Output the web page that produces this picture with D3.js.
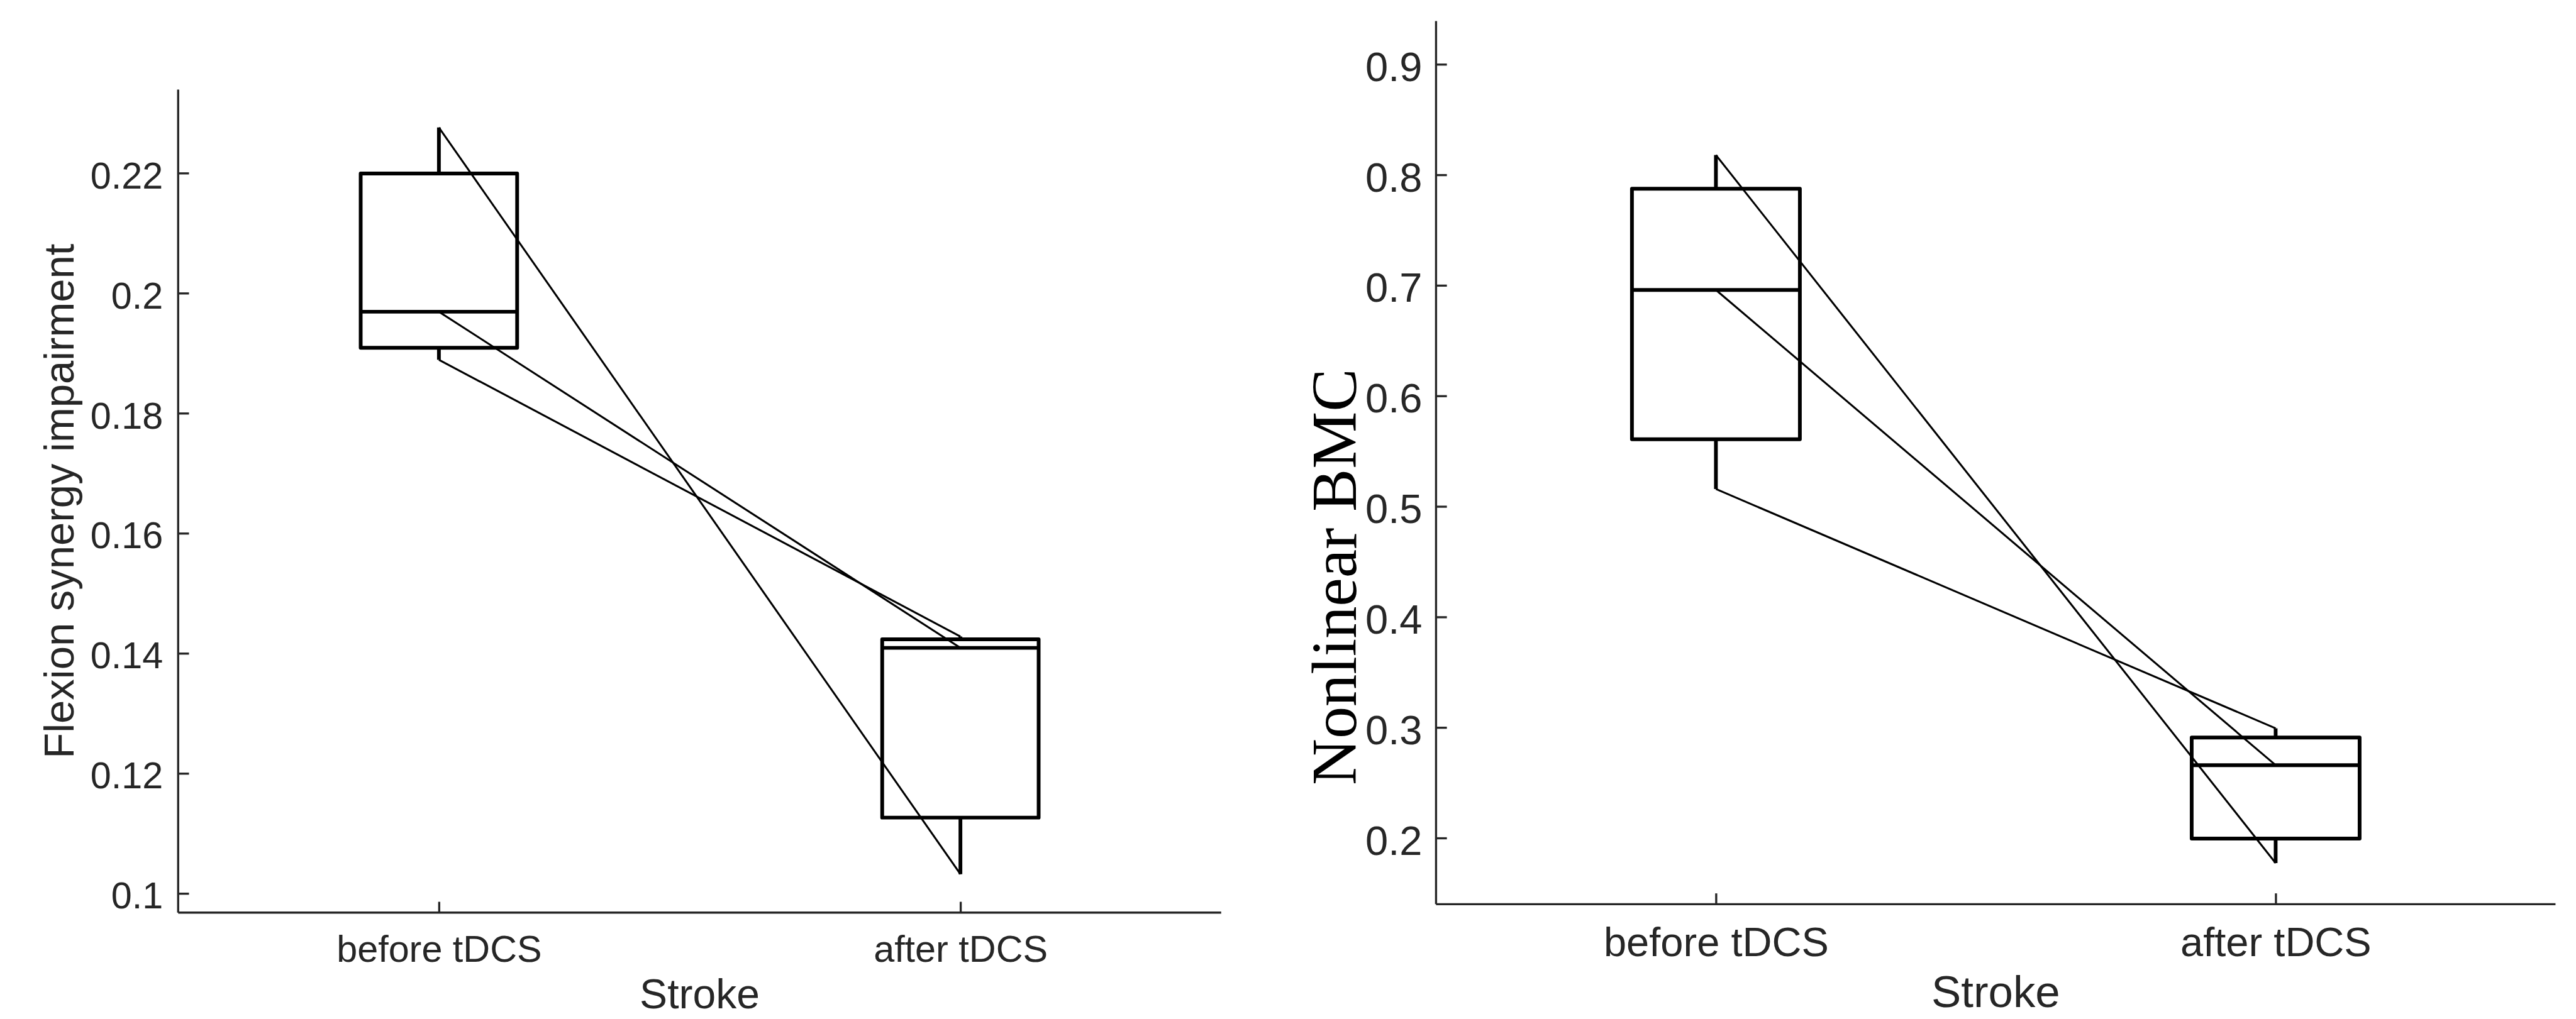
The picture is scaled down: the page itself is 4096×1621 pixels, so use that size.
<!DOCTYPE html>
<meta charset="utf-8">
<style>

body {
  margin: 0;
  background: #fff;
}

svg {
  display: block;
  background: #fff;
}

.axis path,
.axis line {
  stroke: #262626;
  stroke-width: 3.5;
}

.axis text {
  fill: #262626;
  font-family: "Liberation Sans", Helvetica, Arial, sans-serif;
}

.box {
  fill: none;
  stroke: #000;
  stroke-width: 6.2;
  stroke-linejoin: round;
}

.pair {
  fill: none;
  stroke: #000;
  stroke-width: 3.2;
}

.title {
  fill: #262626;
  font-family: "Liberation Sans", Helvetica, Arial, sans-serif;
}

.serif {
  fill: #000;
  font-family: "Liberation Serif", "Times New Roman", Times, serif;
}

</style>
<body>
  <div id="main"></div>
  <script src="https://d3js.org/d3.v7.min.js"></script>
  <script>

  // categories on the x axis, shared by both panels
  const categories = ["before tDCS", "after tDCS"];
  const xTitle = "Stroke";

  // left panel: one value per subject, before and after
  const flexBefore = [0.2276, 0.1969, 0.1889];
  const flexAfter  = [0.1032, 0.1409, 0.1428];
  const flexTicks  = [0.1, 0.12, 0.14, 0.16, 0.18, 0.2, 0.22];
  const flexTickLabels = ["0.1", "0.12", "0.14", "0.16", "0.18", "0.2", "0.22"];
  const flexLimits = [0.0968, 0.2339];
  const flexTitle = "Flexion synergy impairment";

  // right panel
  const bmcBefore = [0.8179, 0.6958, 0.5157];
  const bmcAfter  = [0.1773, 0.2659, 0.2992];
  const bmcTicks  = [0.2, 0.3, 0.4, 0.5, 0.6, 0.7, 0.8, 0.9];
  const bmcTickLabels = ["0.2", "0.3", "0.4", "0.5", "0.6", "0.7", "0.8", "0.9"];
  const bmcLimits = [0.1401, 0.9391];
  const bmcTitle = "Nonlinear BMC";

  // the whole drawing is laid out at reference size, then shrunk
  const k = 0.957;
  const svg = d3.select("#main").append("svg")
      .attr("width", 4096)
      .attr("height", 1621);
  const root = svg.append("g").attr("transform", `scale(${k})`);

  // matlab style percentile (used by boxplot)
  function mquant(vals, p) {
    const s = vals.slice().sort(d3.ascending);
    const n = s.length;
    const pos = p * n - 0.5;
    if (pos <= 0) return s[0];
    if (pos >= n - 1) return s[n - 1];
    const i = Math.floor(pos);
    return s[i] + (pos - i) * (s[i + 1] - s[i]);
  }

  function stats(vals) {
    return {
      lo: d3.min(vals),
      q1: mquant(vals, 0.25),
      med: mquant(vals, 0.5),
      q3: mquant(vals, 0.75),
      hi: d3.max(vals)
    };
  }

  function panel(opt) {
    const g = root.append("g");

    const x = d3.scaleLinear().domain([0.5, 2.5]).range([opt.left, opt.right]);
    const y = d3.scaleLinear().domain(opt.limits).range([opt.bottom, opt.top]);

    // y axis, ticks pointing inward
    const ya = g.append("g")
      .attr("class", "axis")
      .attr("transform", `translate(${opt.left},0)`)
      .call(d3.axisLeft(y)
        .tickValues(opt.ticks)
        .tickFormat((d, i) => opt.tickLabels[i])
        .tickSizeInner(-18)
        .tickSizeOuter(0)
        .tickPadding(opt.yPad));
    ya.selectAll("text")
      .attr("dy", "0.4em")
      .style("font-size", opt.tickFont + "px");

    // x axis
    const xa = g.append("g")
      .attr("class", "axis")
      .attr("transform", `translate(0,${opt.bottom})`)
      .call(d3.axisBottom(x)
        .tickValues([1, 2])
        .tickFormat(d => categories[d - 1])
        .tickSizeInner(-18)
        .tickSizeOuter(0)
        .tickPadding(38));
    xa.selectAll("text").style("font-size", opt.tickFont + "px");
    xa.selectAll(".domain").attr("d", `M${opt.left},0H${opt.right}`);
    ya.selectAll(".domain").attr("d", `M0,${opt.bottom}V${opt.top}`);

    const groups = [opt.before, opt.after];
    const half = 0.15;

    groups.forEach((vals, i) => {
      const s = stats(vals);
      const c = i + 1;
      // box
      g.append("path")
        .attr("class", "box")
        .attr("d", `M${x(c - half)},${y(s.q1)}H${x(c + half)}V${y(s.q3)}H${x(c - half)}Z`);
      // median
      g.append("line")
        .attr("class", "box")
        .attr("x1", x(c - half)).attr("x2", x(c + half))
        .attr("y1", y(s.med)).attr("y2", y(s.med));
      // whiskers
      g.append("line")
        .attr("class", "box")
        .attr("x1", x(c)).attr("x2", x(c))
        .attr("y1", y(s.q3)).attr("y2", y(s.hi));
      g.append("line")
        .attr("class", "box")
        .attr("x1", x(c)).attr("x2", x(c))
        .attr("y1", y(s.q1)).attr("y2", y(s.lo));
    });

    // subject lines, before -> after
    g.selectAll(".pair")
      .data(opt.before.map((v, i) => [v, opt.after[i]]))
      .enter().append("line")
        .attr("class", "pair")
        .attr("x1", x(1)).attr("x2", x(2))
        .attr("y1", d => y(d[0]))
        .attr("y2", d => y(d[1]));

    // x title
    g.append("text")
      .attr("class", "title")
      .attr("text-anchor", "middle")
      .attr("x", (opt.left + opt.right) / 2)
      .attr("y", opt.xTitleY)
      .style("font-size", opt.xTitleFont + "px")
      .text(xTitle);

    // y title
    g.append("text")
      .attr("class", opt.yTitleClass)
      .attr("text-anchor", "middle")
      .attr("transform", `translate(${opt.yTitleX},${opt.yTitleY}) rotate(-90)`)
      .style("font-size", opt.yTitleFont + "px")
      .text(opt.yTitle);
  }

  panel({
    left: 296, right: 2029, top: 149, bottom: 1517,
    limits: flexLimits, ticks: flexTicks, tickLabels: flexTickLabels,
    before: flexBefore, after: flexAfter,
    tickFont: 62, yPad: 25,
    xTitleY: 1676, xTitleFont: 69,
    yTitle: flexTitle, yTitleClass: "title", yTitleX: 122, yTitleY: 833, yTitleFont: 70
  });

  panel({
    left: 2386, right: 4246, top: 35, bottom: 1503,
    limits: bmcLimits, ticks: bmcTicks, tickLabels: bmcTickLabels,
    before: bmcBefore, after: bmcAfter,
    tickFont: 68, yPad: 23,
    xTitleY: 1674, xTitleFont: 74,
    yTitle: bmcTitle, yTitleClass: "serif", yTitleX: 2253, yTitleY: 959, yTitleFont: 107
  });

  </script>
</body>
